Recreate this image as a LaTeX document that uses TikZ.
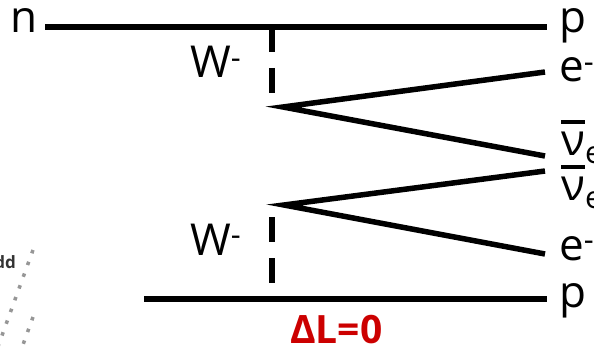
\documentclass[tikz,border=0pt]{standalone}
\usepackage{fontspec}
\setmainfont{Open Sans}
\usetikzlibrary{positioning}
\definecolor{lnred}{RGB}{204,0,0}
\definecolor{dotgray}{RGB}{150,150,150}
\newcommand\antinu{\leavevmode\vbox{\hrule height 4pt\kern 7pt\hbox{ν}}}

\begin{document}
\begin{tikzpicture}[x=1pt,y=-1pt,
  fermion/.style={line width=5.5pt},
  wboson/.style={line width=6.5pt, dash pattern=on 25pt off 16pt},
  lbl/.style={inner sep=0pt, anchor=base west, font=\fontsize{44}{50}\selectfont},
  dotline/.style={dotgray, line width=3.5pt, dash pattern=on 3.5pt off 9pt}]
\useasboundingbox (0,0) rectangle (594,350);

% cut-off neighbour on the left
\node[inner sep=0pt, anchor=base east, text=black!80, font=\bfseries\fontsize{17}{20}\selectfont] (dd) at (16,268) {dd};
\coordinate (d1a) at (33,250);
\coordinate (d1b) at (-4,352);
\coordinate (d2a) at (33,317);
\coordinate (d2b) at (20,353);
\draw[dotline] (d1a) -- (d1b);
\draw[dotline] (d2a) -- (d2b);

% particle labels
\node[lbl] (n) at (10,33) {n};
\node[lbl] (pT) at (559,33) {p};
\node[lbl] (eT) at (559,82) {e\textsuperscript{-}};
\node[lbl] (nuT) at (561,155) {\antinu\textsubscript{e}};
\node[lbl] (nuB) at (561,200) {\antinu\textsubscript{e}};
\node[lbl] (eB) at (559,260) {e\textsuperscript{-}};
\node[lbl] (pB) at (559,307) {p};
\node[lbl] (wT) at (190,78) {W\textsuperscript{-}};
\node[lbl] (wB) at (190,255) {W\textsuperscript{-}};
\node[inner sep=0pt, anchor=base west, text=lnred, font=\bfseries\fontsize{39}{44}\selectfont] (dL) at (290,343) {ΔL=0};

% nucleon lines
\coordinate (nL) at (45,27);
\coordinate (nR) at (547,27);
\coordinate (pL) at (144,299);
\coordinate (pR) at (547,299);
\draw[fermion] (nL) -- (nR);
\draw[fermion] (pL) -- (pR);

% vertices and lepton lines
\coordinate (v1) at (283,107);
\coordinate (v2) at (284,205);
\coordinate (e1) at (545,72);
\coordinate (nu1) at (545,156);
\coordinate (nu2) at (545,171);
\coordinate (e2) at (545,254);
\draw[fermion] (e1) -- (v1) -- (nu1);
\draw[fermion] (nu2) -- (v2) -- (e2);

% W lines
\coordinate (w1a) at (272,27);
\coordinate (w1b) at (272,107);
\coordinate (w2a) at (272,205);
\coordinate (w2b) at (272,299);
\draw[wboson] (w1a) -- (w1b);
\draw[wboson, dash phase=29pt] (w2a) -- (w2b);
\end{tikzpicture}
\end{document}
